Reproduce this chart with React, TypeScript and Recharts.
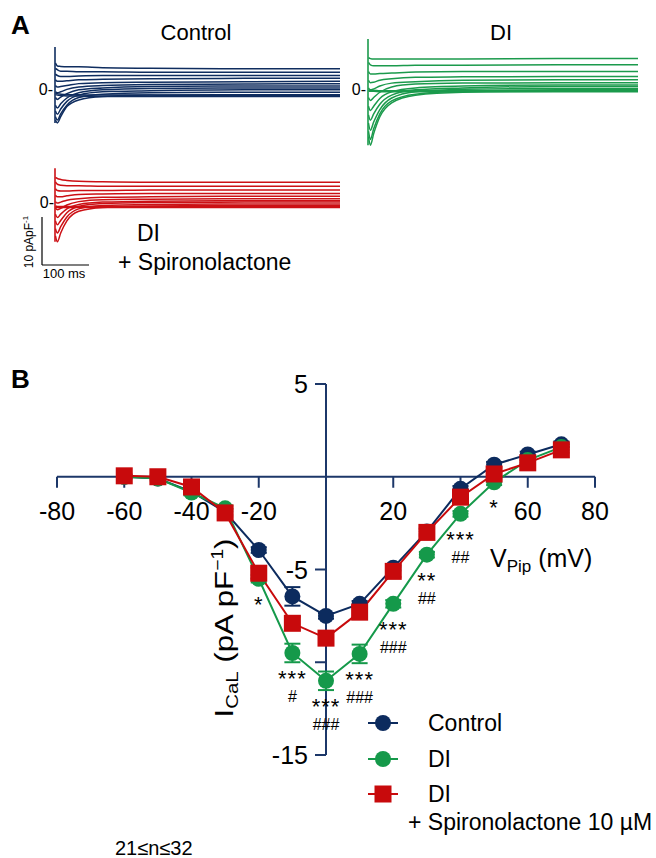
import React from 'react';
import { LineChart, Line, XAxis, YAxis, ReferenceLine, ReferenceDot, ErrorBar } from 'recharts';

// ---- panel A: representative current traces (pA/pF vs ms) ----
const traceTimes = [1, 5, 12, 25, 50, 100, 200, 400, 600];

const controlTraces = [
  [5.4, 4.8, 4.7, 4.6, 4.6, 4.4, 4.3, 4.2, 4.2],
  [4.3, 4.0, 3.7, 3.7, 3.6, 3.6, 3.5, 3.5, 3.5],
  [3.1, 2.8, 2.6, 2.6, 2.7, 2.8, 2.8, 2.8, 2.8],
  [1.9, 1.6, 1.6, 1.7, 1.9, 2.0, 2.1, 2.2, 2.2],
  [0.7, 0.4, 0.5, 0.7, 1.1, 1.3, 1.4, 1.5, 1.6],
  [-0.6, -0.8, -0.6, -0.1, 0.4, 0.7, 0.9, 1.0, 1.1],
  [-1.8, -2.2, -1.7, -1.0, -0.2, 0.2, 0.5, 0.6, 0.6],
  [-3.4, -4.0, -3.1, -1.9, -0.8, -0.2, 0.1, 0.2, 0.2],
  [-4.6, -5.3, -4.2, -2.6, -1.3, -0.6, -0.4, -0.2, -0.2],
  [-5.8, -6.5, -5.2, -3.4, -1.8, -1.1, -0.8, -0.7, -0.7],
  [-6.5, -7.1, -5.8, -3.7, -2.3, -1.6, -1.3, -1.2, -1.2],
  [-1.2, -1.3, -1.4, -1.5, -1.5, -1.6, -1.6, -1.6, -1.6],
  [-0.9, -1.0, -1.1, -1.2, -1.2, -1.3, -1.3, -1.4, -1.4],
];

const diTraces = [
  [6.5, 6.3, 6.2, 6.2, 6.2, 6.2, 6.2, 6.3, 6.3],
  [5.5, 5.0, 4.8, 4.8, 4.8, 4.9, 4.9, 5.0, 5.0],
  [3.6, 3.1, 3.1, 3.2, 3.3, 3.5, 3.6, 3.6, 3.6],
  [1.8, 1.3, 1.4, 1.8, 2.1, 2.4, 2.5, 2.6, 2.6],
  [0.2, -0.2, 0.0, 0.6, 1.2, 1.5, 1.8, 1.9, 1.9],
  [-1.8, -2.4, -1.8, -0.7, 0.4, 1.0, 1.2, 1.3, 1.3],
  [-3.6, -4.5, -3.6, -2.0, -0.6, 0.2, 0.6, 0.8, 0.8],
  [-5.4, -6.5, -5.2, -3.2, -1.3, -0.2, 0.2, 0.5, 0.5],
  [-7.1, -8.6, -6.9, -4.3, -1.9, -0.6, -0.1, 0.1, 0.1],
  [-8.8, -10.5, -8.3, -5.2, -2.5, -1.1, -0.5, -0.2, -0.2],
  [-9.9, -11.7, -9.3, -5.8, -2.9, -1.3, -0.7, -0.5, -0.5],
  [-0.4, -0.5, -0.5, -0.6, -0.6, -0.6, -0.6, -0.6, -0.6],
  [-0.2, -0.3, -0.3, -0.4, -0.4, -0.4, -0.4, -0.4, -0.4],
];

const spiroTraces = [
  [5.2, 5.0, 4.8, 4.6, 4.4, 4.3, 4.2, 4.2, 4.2],
  [4.3, 3.8, 3.6, 3.5, 3.5, 3.4, 3.4, 3.4, 3.4],
  [2.9, 2.5, 2.4, 2.4, 2.5, 2.5, 2.6, 2.6, 2.6],
  [1.5, 1.2, 1.2, 1.4, 1.7, 1.8, 1.9, 1.9, 1.9],
  [0.2, -0.1, 0.1, 0.5, 0.8, 1.1, 1.2, 1.3, 1.3],
  [-1.1, -1.5, -1.2, -0.5, 0.2, 0.6, 0.7, 0.8, 0.8],
  [-2.4, -3.1, -2.4, -1.3, -0.4, 0.1, 0.3, 0.4, 0.4],
  [-3.8, -4.6, -3.7, -2.1, -0.8, -0.2, 0.0, 0.1, 0.1],
  [-5.4, -6.3, -5.0, -3.0, -1.3, -0.6, -0.4, -0.3, -0.3],
  [-6.9, -8.1, -6.3, -3.8, -1.8, -1.0, -0.7, -0.6, -0.6],
  [-0.7, -0.8, -0.8, -0.8, -0.8, -0.8, -0.8, -0.8, -0.8],
  [-0.9, -1.0, -1.0, -1.0, -1.0, -1.0, -1.0, -1.0, -1.0],
];

// capacitive spike at t = 0 (top, bottom)
const spikeControl = [8.75, -7.1];
const spikeDI = [10.4, -11.7];
const spikeSpiro = [7.1, -8.1];

// ---- panel B: I-V relation ----
const voltages = [-60, -50, -40, -30, -20, -10, 0, 10, 20, 30, 40, 50, 60, 70];
const controlMean = [0, -0.1, -0.8, -1.9, -3.95, -6.45, -7.5, -6.85, -4.9, -2.95, -0.65, 0.65, 1.2, 1.75];
const controlSem = [0.1, 0.1, 0.15, 0.15, 0.15, 0.5, 0.15, 0.15, 0.15, 0.15, 0.15, 0.15, 0.15, 0.15];
const diMean = [0, -0.1, -0.85, -1.7, -5.5, -9.5, -11.0, -9.55, -6.85, -4.2, -2.0, -0.3, 0.9, 1.6];
const diSem = [0.1, 0.1, 0.15, 0.15, 0.2, 0.5, 0.5, 0.5, 0.2, 0.15, 0.15, 0.15, 0.15, 0.15];
const spiroMean = [0.05, 0, -0.55, -1.95, -5.2, -7.9, -8.7, -7.3, -5.1, -3.0, -1.1, 0.15, 0.75, 1.45];
const spiroSem = [0.1, 0.1, 0.15, 0.2, 0.3, 0.35, 0.35, 0.3, 0.3, 0.2, 0.2, 0.15, 0.15, 0.15];

const starMarks = ['', '', '', '', '*', '***', '***', '***', '***', '**', '***', '*', '', ''];
const hashMarks = ['', '', '', '', '', '#', '###', '###', '###', '##', '##', '', '', ''];

const xTicks = [-80, -60, -40, -20, 20, 40, 60, 80];
const xTickLabels = ['-80', '-60', '-40', '-20', '20', '', '60', '80'];
const yTicks = [5, -5, -10, -15];
const yTickLabels = ['5', '-5', '', '-15'];

const NAVY = '#0c2b5e';
const GREEN = '#15994a';
const RED = '#c80a0c';
const AXIS = '#1c3769';
const FONT = '"Liberation Sans", Arial, Helvetica, sans-serif';

const buildTraceRows = (traces: number[][]) =>
  traceTimes.map((t, i) => {
    const row: Record<string, number> = { t };
    traces.forEach((tr, k) => {
      row['s' + k] = tr[i];
    });
    return row;
  });

type TraceProps = {
  traces: number[][];
  spike: number[];
  color: string;
  left: number;
  top: number;
  width: number;
  height: number;
  yDomain: [number, number];
  xMax: number;
};

const TracePanel = ({ traces, spike, color, left, top, width, height, yDomain, xMax }: TraceProps) => (
  <div style={{ position: 'absolute', left, top }}>
    <LineChart width={width} height={height} data={buildTraceRows(traces)} margin={{ top: 0, right: 0, bottom: 0, left: 1 }}>
      <XAxis type="number" dataKey="t" domain={[0, xMax]} hide allowDataOverflow />
      <YAxis type="number" domain={yDomain} hide allowDataOverflow />
      <ReferenceLine segment={[{ x: 0, y: spike[0] }, { x: 0, y: spike[1] }]} stroke={color} strokeWidth={1.6} ifOverflow="visible" />
      {traces.map((_, k) => (
        <Line key={k} dataKey={'s' + k} type="monotone" stroke={color} strokeWidth={1.5} dot={false} isAnimationActive={false} />
      ))}
    </LineChart>
  </div>
);

const ivRows = voltages.map((v, i) => ({
  v,
  control: controlMean[i],
  controlErr: controlSem[i],
  di: diMean[i],
  diErr: diSem[i],
  spiro: spiroMean[i],
  spiroErr: spiroSem[i],
}));

const SquareDot = (props: any) => {
  const { cx, cy, index } = props;
  if (cx == null || cy == null) return <g key={`sq-${index}`} />;
  return <rect key={`sq-${index}`} x={cx - 8.5} y={cy - 8.5} width={17} height={17} fill={RED} />;
};

const IVChart = () => (
  <div style={{ position: 'absolute', left: 0, top: 360 }}>
    <LineChart width={656} height={420} data={ivRows} margin={{ top: 24, right: 61, bottom: 25, left: 57 }}>
      <XAxis type="number" dataKey="v" domain={[-80, 80]} hide />
      <YAxis type="number" domain={[-15, 5]} hide />
      <ReferenceLine y={0} stroke={AXIS} strokeWidth={2} />
      <ReferenceLine x={0} stroke={AXIS} strokeWidth={2} />
      {xTicks.map((t, i) => (
        <ReferenceDot
          key={'xt' + t}
          x={t}
          y={0}
          r={0}
          ifOverflow="visible"
          shape={(p: any) => (
            <g>
              <line x1={p.cx} x2={p.cx} y1={p.cy} y2={p.cy + 11} stroke={AXIS} strokeWidth={2} />
              {xTickLabels[i] && (
                <text x={p.cx} y={p.cy + 43} textAnchor="middle" fontSize={25} fontFamily={FONT} fill="#000">
                  {xTickLabels[i]}
                </text>
              )}
            </g>
          )}
        />
      ))}
      {yTicks.map((t, i) => (
        <ReferenceDot
          key={'yt' + t}
          x={0}
          y={t}
          r={0}
          ifOverflow="visible"
          shape={(p: any) => (
            <g>
              <line x1={p.cx - 11} x2={p.cx} y1={p.cy} y2={p.cy} stroke={AXIS} strokeWidth={2} />
              {yTickLabels[i] && (
                <text x={p.cx - 18} y={p.cy + 9} textAnchor="end" fontSize={25} fontFamily={FONT} fill="#000">
                  {yTickLabels[i]}
                </text>
              )}
            </g>
          )}
        />
      ))}
      <Line dataKey="control" stroke={NAVY} strokeWidth={2} dot={{ r: 8, fill: NAVY, stroke: NAVY, strokeWidth: 0 }} isAnimationActive={false}>
        <ErrorBar dataKey="controlErr" width={8} stroke={NAVY} strokeWidth={2} direction="y" />
      </Line>
      <Line dataKey="di" stroke={GREEN} strokeWidth={2} dot={{ r: 8, fill: GREEN, stroke: GREEN, strokeWidth: 0 }} isAnimationActive={false}>
        <ErrorBar dataKey="diErr" width={8} stroke={GREEN} strokeWidth={2} direction="y" />
      </Line>
      <Line dataKey="spiro" stroke={RED} strokeWidth={2} dot={SquareDot} isAnimationActive={false}>
        <ErrorBar dataKey="spiroErr" width={8} stroke={RED} strokeWidth={2} direction="y" />
      </Line>
      {voltages.map((v, i) =>
        starMarks[i] ? (
          <ReferenceDot
            key={'an' + v}
            x={v}
            y={diMean[i]}
            r={0}
            ifOverflow="visible"
            shape={(p: any) => (
              <g fontFamily={FONT} fill="#000">
                <text x={p.cx} y={p.cy + 33} textAnchor="middle" fontSize={22} letterSpacing={1}>
                  {starMarks[i]}
                </text>
                {hashMarks[i] && (
                  <text x={p.cx} y={p.cy + 49} textAnchor="middle" fontSize={16}>
                    {hashMarks[i]}
                  </text>
                )}
              </g>
            )}
          />
        ) : null
      )}
    </LineChart>
  </div>
);

const LegendRow = ({ y, color, square }: { y: number; color: string; square?: boolean }) => (
  <g>
    <line x1={368} x2={398} y1={y} y2={y} stroke={color} strokeWidth={2} />
    {square ? <rect x={374.5} y={y - 8.5} width={17} height={17} fill={color} /> : <circle cx={383} cy={y} r={8} fill={color} />}
  </g>
);

const Overlay = () => (
  <svg width={656} height={858} style={{ position: 'absolute', left: 0, top: 0, pointerEvents: 'none' }} fontFamily={FONT}>
    <text x={11} y={34} fontSize={26} fontWeight="bold">A</text>
    <text x={11} y={388} fontSize={26} fontWeight="bold">B</text>

    <text x={196} y={40} fontSize={22} textAnchor="middle">Control</text>
    <text x={501} y={40} fontSize={22} textAnchor="middle">DI</text>

    <text x={53} y={95} fontSize={16} textAnchor="end">0-</text>
    <text x={366} y={95} fontSize={16} textAnchor="end">0-</text>
    <text x={54} y={208} fontSize={16} textAnchor="end">0-</text>

    <line x1={42} x2={42} y1={217} y2={265} stroke="#000" strokeWidth={1.2} />
    <line x1={42} x2={89} y1={265} y2={265} stroke="#000" strokeWidth={1.2} />
    <text transform="translate(33,242) rotate(-90)" fontSize={12} textAnchor="middle">
      10 pApF<tspan fontSize={8} dy={-5}>-1</tspan>
    </text>
    <text x={64} y={278} fontSize={13} textAnchor="middle">100 ms</text>

    <text x={137} y={241} fontSize={23}>DI</text>
    <text x={118} y={270} fontSize={23}>+ Spironolactone</text>

    <text x={490} y={567} fontSize={25}>
      V<tspan fontSize={17} dy={5}>Pip</tspan>
      <tspan dy={-5}> (mV)</tspan>
    </text>
    <text transform="translate(233,628) rotate(-90) scale(1.2,1)" fontSize={26} textAnchor="middle">
      I<tspan fontSize={17} dy={5}>CaL</tspan>
      <tspan dy={-5}> (pA pF</tspan>
      <tspan fontSize={16} dy={-10}>−1</tspan>
      <tspan dy={10}>)</tspan>
    </text>

    <LegendRow y={723} color={NAVY} />
    <LegendRow y={759} color={GREEN} />
    <LegendRow y={794} color={RED} square />
    <text x={428} y={731} fontSize={23}>Control</text>
    <text x={428} y={767} fontSize={23}>DI</text>
    <text x={428} y={802} fontSize={23}>DI</text>
    <text x={408} y={830} fontSize={23}>+ Spironolactone 10 µM</text>

    <text x={115} y={855} fontSize={20}>21≤n≤32</text>
  </svg>
);

const App: React.FC = () => (
  <div style={{ position: 'absolute', left: 0, top: 0, width: 656, height: 858, background: '#fff', fontFamily: FONT, overflow: 'hidden' }}>
    <TracePanel traces={controlTraces} spike={spikeControl} color="#0f2d5f" left={54} top={41} width={286} height={91} yDomain={[-9, 10]} xMax={600} />
    <TracePanel traces={diTraces} spike={spikeDI} color="#1b9a4c" left={367} top={36} width={271} height={113} yDomain={[-12.5, 11]} xMax={570} />
    <TracePanel traces={spiroTraces} spike={spikeSpiro} color="#cc1015" left={54} top={164} width={286} height={82} yDomain={[-9, 8]} xMax={600} />
    <IVChart />
    <Overlay />
  </div>
);

export default App;
